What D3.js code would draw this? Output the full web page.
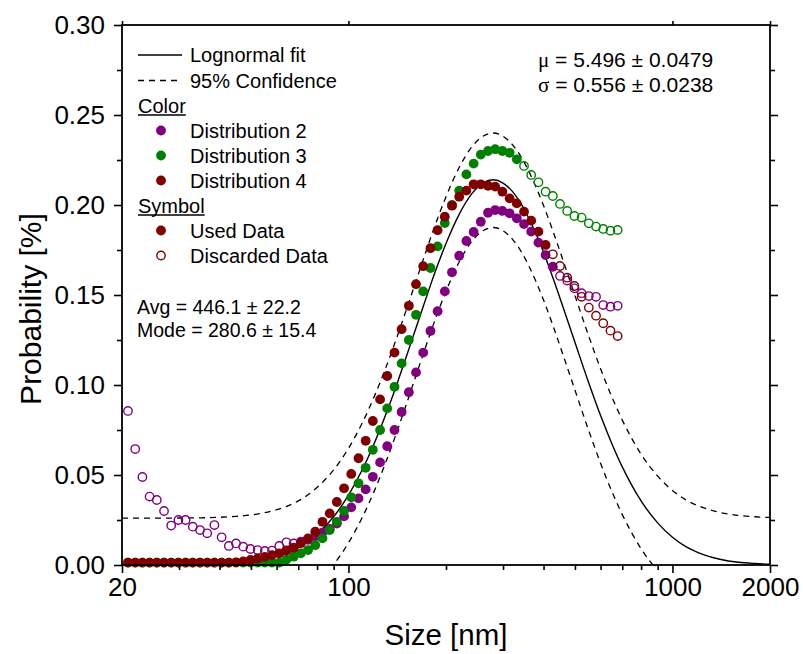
<!DOCTYPE html>
<html>
<head>
<meta charset="utf-8">
<script src="https://cdn.jsdelivr.net/npm/d3@7"></script>
<style>
  body { margin: 0; background: #fff; }
  svg { font-family: "Liberation Sans", Arial, sans-serif; }
</style>
</head>
<body>
<svg id="chart" width="803" height="654"></svg>
<script>
// size bins (nm), shared by all three distributions
const sizes = [20.87, 21.97, 23.12, 24.33, 25.61, 26.96, 28.37, 29.86, 31.43, 33.08,
  34.82, 36.64, 38.57, 40.59, 42.73, 44.97, 47.33, 49.82, 52.43, 55.19,
  58.09, 61.14, 64.35, 67.73, 71.29, 75.03, 78.97, 83.12, 87.49, 92.08,
  96.92, 102.0, 107.4, 113.0, 118.9, 125.2, 131.7, 138.7, 145.9, 153.6,
  161.6, 170.1, 179.1, 188.4, 198.3, 208.7, 219.7, 231.2, 243.4, 256.1,
  269.6, 283.7, 298.6, 314.3, 330.8, 348.2, 366.4, 385.7, 405.9, 427.3,
  449.7, 473.3, 498.2, 524.3, 551.9, 580.9, 611.4, 643.5, 677.3];

const dist2 = [0.0856, 0.0644, 0.0489, 0.0380, 0.0361, 0.0300, 0.0219, 0.0250, 0.0250, 0.0213,
  0.0194, 0.0176, 0.0222, 0.0154, 0.0106, 0.0120, 0.0102, 0.0089, 0.0083, 0.0078,
  0.0080, 0.0106, 0.0126, 0.0120, 0.013, 0.014, 0.016, 0.018, 0.020, 0.023,
  0.027, 0.032, 0.037, 0.042, 0.049, 0.057, 0.066, 0.075, 0.085, 0.096,
  0.107, 0.118, 0.130, 0.141, 0.152, 0.1626, 0.1718, 0.180, 0.185, 0.1907,
  0.1957, 0.1972, 0.1967, 0.1954, 0.1926, 0.1894, 0.1852, 0.1791, 0.1722, 0.1657,
  0.1606, 0.158, 0.1537, 0.151, 0.1494, 0.149, 0.1444, 0.1435, 0.144];

const dist3 = [0.0013, 0.0013, 0.0013, 0.0013, 0.0013, 0.0013, 0.0013, 0.0013, 0.0013, 0.0013,
  0.0013, 0.0013, 0.0013, 0.0013, 0.0013, 0.0013, 0.0013, 0.0013, 0.0013, 0.0013,
  0.0013, 0.0013, 0.003, 0.0046, 0.0065, 0.0083, 0.011, 0.0148, 0.0194, 0.024,
  0.030, 0.0376, 0.0454, 0.054, 0.064, 0.075, 0.087, 0.099, 0.112, 0.125,
  0.139, 0.152, 0.165, 0.177, 0.190, 0.200, 0.208, 0.217, 0.223, 0.228,
  0.230, 0.231, 0.230, 0.229, 0.2254, 0.2217, 0.2167, 0.2126, 0.2074, 0.205,
  0.2006, 0.1967, 0.1939, 0.193, 0.1898, 0.188, 0.1867, 0.1857, 0.1861];

const dist4 = [0.0013, 0.0013, 0.0013, 0.0013, 0.0013, 0.0013, 0.0013, 0.0013, 0.0013, 0.0013,
  0.0013, 0.0013, 0.0013, 0.0013, 0.0013, 0.0015, 0.002, 0.0028, 0.0036, 0.0045,
  0.0055, 0.0065, 0.008, 0.0096, 0.012, 0.0148, 0.0185, 0.024, 0.0287, 0.035,
  0.0426, 0.0506, 0.0593, 0.069, 0.080, 0.092, 0.105, 0.118, 0.131, 0.144,
  0.156, 0.166, 0.176, 0.186, 0.1935, 0.1996, 0.2046, 0.208, 0.2115, 0.2115,
  0.2107, 0.2102, 0.2074, 0.2037, 0.2009, 0.1963, 0.1913, 0.1852, 0.1778, 0.1726,
  0.1661, 0.1596, 0.155, 0.149, 0.143, 0.1385, 0.1343, 0.1302, 0.1272];

// index range [first, last] of points used in the fit
const dist2Used = [24, 59];
const dist3Used = [0, 54];
const dist4Used = [0, 58];

// lognormal fit and 95% confidence band
const fitX = [20, 25, 30, 35, 40, 45, 50, 55, 60, 65, 70, 75, 80, 90, 100, 110, 120, 130, 140, 150,
  160, 170, 180, 190, 200, 220, 240, 260, 280, 300, 320, 340, 360, 380, 400, 430, 460, 500, 550, 600,
  650, 700, 750, 800, 900, 1000, 1100, 1200, 1400, 1600, 1800, 2000];
const fitY = [0.0000, 0.0000, 0.0001, 0.0002, 0.0005, 0.0010, 0.0018, 0.0030, 0.0047, 0.0069,
  0.0096, 0.0130, 0.0171, 0.0268, 0.0388, 0.0525, 0.0674, 0.0830, 0.0988, 0.1144,
  0.1294, 0.1435, 0.1566, 0.1683, 0.1786, 0.1951, 0.2062, 0.2122, 0.2140, 0.2122,
  0.2077, 0.2011, 0.1928, 0.1836, 0.1737, 0.1583, 0.1430, 0.1237, 0.1018, 0.0830,
  0.0674, 0.0545, 0.0441, 0.0356, 0.0234, 0.0154, 0.0102, 0.0069, 0.0032, 0.0015,
  0.0008, 0.0004];
const upperY = [0.0260, 0.0260, 0.0261, 0.0262, 0.0265, 0.0270, 0.0278, 0.0290, 0.0307, 0.0329,
  0.0356, 0.0390, 0.0431, 0.0528, 0.0648, 0.0785, 0.0934, 0.1090, 0.1248, 0.1404,
  0.1554, 0.1695, 0.1826, 0.1943, 0.2046, 0.2211, 0.2322, 0.2382, 0.2400, 0.2382,
  0.2337, 0.2271, 0.2188, 0.2096, 0.1997, 0.1843, 0.1690, 0.1497, 0.1278, 0.1090,
  0.0934, 0.0805, 0.0701, 0.0616, 0.0494, 0.0414, 0.0362, 0.0329, 0.0292, 0.0275,
  0.0268, 0.0264];
const lowerY = [-0.0265, -0.0265, -0.0264, -0.0263, -0.0260, -0.0255, -0.0247, -0.0235, -0.0218, -0.0196,
  -0.0169, -0.0135, -0.0094, 0.0003, 0.0123, 0.0260, 0.0409, 0.0565, 0.0723, 0.0879,
  0.1029, 0.1170, 0.1301, 0.1418, 0.1521, 0.1686, 0.1797, 0.1857, 0.1875, 0.1857,
  0.1812, 0.1746, 0.1663, 0.1571, 0.1472, 0.1318, 0.1165, 0.0972, 0.0753, 0.0565,
  0.0409, 0.0280, 0.0176, 0.0091, -0.0031, -0.0111, -0.0163, -0.0196, -0.0233, -0.0250,
  -0.0257, -0.0261];

const xMajor = [20, 100, 1000, 2000];
const xMinor = [30, 40, 50, 60, 70, 80, 90, 200, 300, 400, 500, 600, 700, 800, 900];
const yMajor = [0, 0.05, 0.10, 0.15, 0.20, 0.25, 0.30];
const yMinor = [0.025, 0.075, 0.125, 0.175, 0.225, 0.275];

const series = [
  { name: 'Distribution 2', color: '#800080', values: dist2, used: dist2Used },
  { name: 'Distribution 3', color: '#008000', values: dist3, used: dist3Used },
  { name: 'Distribution 4', color: '#800000', values: dist4, used: dist4Used }
];

drawChart('#chart');

function drawChart(selector) {
  const svg = d3.select(selector);
  const width = +svg.attr('width');
  const height = +svg.attr('height');
  const margin = { top: 25, right: 33, bottom: 89, left: 122 };

  const x = d3.scaleLog()
    .domain([20, 2000])
    .range([margin.left, width - margin.right]);

  const y = d3.scaleLinear()
    .domain([0, 0.30])
    .range([height - margin.bottom, margin.top]);

  svg.append('clipPath').attr('id', 'plotArea')
    .append('rect')
    .attr('x', margin.left).attr('y', margin.top)
    .attr('width', width - margin.left - margin.right)
    .attr('height', height - margin.top - margin.bottom);

  // fit and confidence band
  const line = d3.line()
    .x(d => x(d[0]))
    .y(d => y(d[1]))
    .curve(d3.curveMonotoneX);

  const plot = svg.append('g').attr('clip-path', 'url(#plotArea)');

  [upperY, lowerY].forEach(band => {
    plot.append('path')
      .datum(fitX.map((v, i) => [v, band[i]]))
      .attr('fill', 'none')
      .attr('stroke', '#000')
      .attr('stroke-width', 1.3)
      .attr('stroke-dasharray', '6,5')
      .attr('d', line);
  });

  plot.append('path')
    .datum(fitX.map((v, i) => [v, fitY[i]]))
    .attr('fill', 'none')
    .attr('stroke', '#000')
    .attr('stroke-width', 1.4)
    .attr('d', line);

  // data points
  series.forEach(s => {
    const pts = s.values.map((v, i) => ({ x: sizes[i], y: v, used: i >= s.used[0] && i <= s.used[1] }));
    svg.append('g')
      .selectAll('circle')
      .data(pts)
      .enter()
      .append('circle')
      .attr('cx', d => x(d.x))
      .attr('cy', d => y(d.y))
      .attr('r', d => d.used ? 4.9 : 4.2)
      .attr('fill', d => d.used ? s.color : 'none')
      .attr('stroke', s.color)
      .attr('stroke-width', d => d.used ? 0 : 1.4);
  });

  // axes
  const bottom = height - margin.bottom;
  const right = width - margin.right;

  const styleAxis = g => {
    g.select('.domain').remove();
    g.selectAll('line').attr('stroke', '#000').attr('stroke-width', 1.6);
    g.selectAll('text').attr('fill', '#000').style('font-size', '26px');
  };

  svg.append('g')
    .attr('transform', `translate(0,${bottom})`)
    .call(d3.axisBottom(x).tickValues(xMajor).tickFormat(d3.format('d')).tickSize(8).tickPadding(5))
    .call(styleAxis);
  svg.append('g')
    .attr('transform', `translate(0,${bottom})`)
    .call(d3.axisBottom(x).tickValues(xMinor).tickFormat('').tickSize(5))
    .call(styleAxis);
  svg.append('g')
    .attr('transform', `translate(0,${margin.top})`)
    .call(d3.axisTop(x).tickValues(xMajor).tickFormat('').tickSize(4))
    .call(styleAxis);

  svg.append('g')
    .attr('transform', `translate(${margin.left},0)`)
    .call(d3.axisLeft(y).tickValues(yMajor).tickFormat(d3.format('.2f')).tickSize(8).tickPadding(9))
    .call(styleAxis);
  svg.append('g')
    .attr('transform', `translate(${margin.left},0)`)
    .call(d3.axisLeft(y).tickValues(yMinor).tickFormat('').tickSize(5))
    .call(styleAxis);
  svg.append('g')
    .attr('transform', `translate(${right},0)`)
    .call(d3.axisRight(y).tickValues(yMajor).tickFormat('').tickSize(8))
    .call(styleAxis);
  svg.append('g')
    .attr('transform', `translate(${right},0)`)
    .call(d3.axisRight(y).tickValues(yMinor).tickFormat('').tickSize(5))
    .call(styleAxis);

  svg.append('rect')
    .attr('x', margin.left).attr('y', margin.top)
    .attr('width', right - margin.left)
    .attr('height', bottom - margin.top)
    .attr('fill', 'none')
    .attr('stroke', '#000')
    .attr('stroke-width', 1.8);

  // axis titles
  svg.append('text')
    .attr('x', (margin.left + right) / 2)
    .attr('y', 645)
    .attr('text-anchor', 'middle')
    .style('font-size', '29.5px')
    .text('Size [nm]');

  svg.append('text')
    .attr('transform', `translate(41,${(margin.top + bottom) / 2 + 14}) rotate(-90)`)
    .attr('text-anchor', 'middle')
    .style('font-size', '30px')
    .text('Probability [%]');

  drawLegend(svg);
  drawNotes(svg);
}

function drawLegend(svg) {
  const g = svg.append('g').style('font-size', '20px');
  const lx = 138, tx = 190;

  const row = (yy, label) => g.append('text')
    .attr('x', tx).attr('y', yy).attr('dy', '0.35em').text(label);

  g.append('line').attr('x1', lx).attr('x2', 182).attr('y1', 55).attr('y2', 55)
    .attr('stroke', '#000').attr('stroke-width', 1.4);
  row(55, 'Lognormal fit');
  g.append('line').attr('x1', lx).attr('x2', 182).attr('y1', 80.5).attr('y2', 80.5)
    .attr('stroke', '#000').attr('stroke-width', 1.3).attr('stroke-dasharray', '6,5');
  row(80.5, '95% Confidence');

  const heading = (yy, label) => {
    const t = g.append('text').attr('x', lx).attr('y', yy).attr('dy', '0.35em').text(label);
    const w = t.node().getComputedTextLength();
    g.append('line').attr('x1', lx).attr('x2', lx + w)
      .attr('y1', yy + 9).attr('y2', yy + 9)
      .attr('stroke', '#000').attr('stroke-width', 1.3);
  };

  heading(106, 'Color');
  series.forEach((s, i) => {
    const yy = 130.5 + i * 25;
    g.append('circle').attr('cx', 161).attr('cy', yy).attr('r', 4.9).attr('fill', s.color);
    row(yy, s.name);
  });

  heading(206, 'Symbol');
  g.append('circle').attr('cx', 161).attr('cy', 230.5).attr('r', 4.9).attr('fill', '#800000');
  row(230.5, 'Used Data');
  g.append('circle').attr('cx', 161).attr('cy', 255.5).attr('r', 4.2).attr('fill', 'none')
    .attr('stroke', '#800000').attr('stroke-width', 1.4);
  row(255.5, 'Discarded Data');
}

function drawNotes(svg) {
  const g = svg.append('g').style('font-size', '21px');

  const t1 = g.append('text').attr('x', 538).attr('y', 60).attr('dy', '0.35em');
  t1.append('tspan').style('font-family', '"Liberation Serif", serif').text('\u03bc');
  t1.append('tspan').text(' = 5.496 \u00b1 0.0479');

  const t2 = g.append('text').attr('x', 538).attr('y', 85).attr('dy', '0.35em');
  t2.append('tspan').style('font-family', '"Liberation Serif", serif').text('\u03c3');
  t2.append('tspan').text(' = 0.556 \u00b1 0.0238');

  const g2 = svg.append('g').style('font-size', '19.5px');
  g2.append('text').attr('x', 137).attr('y', 307).attr('dy', '0.35em').text('Avg = 446.1 \u00b1 22.2');
  g2.append('text').attr('x', 137).attr('y', 330).attr('dy', '0.35em').text('Mode = 280.6 \u00b1 15.4');
}
</script>
</body>
</html>
